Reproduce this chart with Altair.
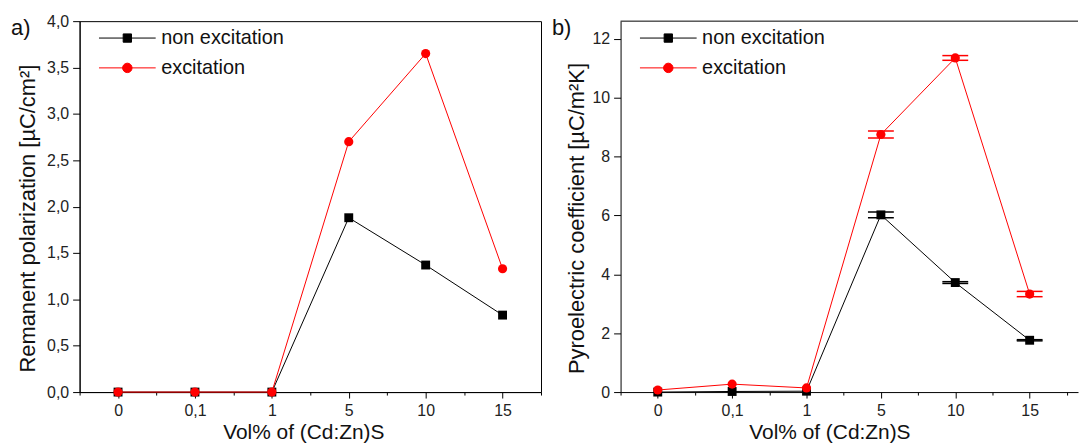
import altair as alt
import pandas as pd

# ---------------- data ----------------
x_labels = ["0", "0,1", "1", "5", "10", "15"]
series_names = ["non excitation", "excitation"]
panel_tags = ["a)", "b)"]

# panel a: remanent polarization [uC/cm2]
pol_non = [0.0, 0.0, 0.0, 1.88, 1.37, 0.83]
pol_exc = [0.0, 0.0, 0.0, 2.70, 3.65, 1.33]

# panel b: pyroelectric coefficient [uC/m2K]
pyro_non = [0.0, 0.02, 0.03, 6.02, 3.72, 1.76]
pyro_exc = [0.07, 0.27, 0.14, 8.75, 11.35, 3.33]
pyro_non_err = [0.0, 0.0, 0.0, 0.10, 0.03, 0.02]
pyro_exc_err = [0.0, 0.0, 0.0, 0.12, 0.08, 0.09]


def make_df(non, exc, non_err=None, exc_err=None):
    rows = []
    for s, vals, errs in [(series_names[0], non, non_err), (series_names[1], exc, exc_err)]:
        for i, v in enumerate(vals):
            rows.append({"pos": i, "label": x_labels[i], "series": s, "value": v,
                         "err": (errs[i] if errs else 0.0)})
    return pd.DataFrame(rows)


df_a = make_df(pol_non, pol_exc)
df_b = make_df(pyro_non, pyro_exc, pyro_non_err, pyro_exc_err)

FONT = "Liberation Sans"
label_arr = "[" + ",".join("'" + l + "'" for l in x_labels) + "]"
x_label_expr = "datum.value % 1 === 0 ? " + label_arr + "[datum.value] : ''"

SQ_PATH = "M-3,0H3M-0.44,-0.44H0.44V0.44H-0.44Z"
CI_PATH = "M-3,0H3M0.5,0A0.5,0.5,0,1,1,-0.5,0A0.5,0.5,0,1,1,0.5,0Z"


def panel(df, tag, ytitle, ydomain, yvalues, ymajor_test, ylabel_expr, width, height,
          xdomain_max, xtitle_x, ytitle_pad, right_border=True):
    xaxis = alt.Axis(
        values=[i * 0.5 - 0.5 for i in range(14)],
        labelExpr=x_label_expr,
        labelOverlap=False, labelFlush=False,
        tickSize={"condition": {"test": "datum.value % 1 === 0", "value": 6}, "value": 3},
        labelPadding=5,
        title="Vol% of (Cd:Zn)S", titleX=xtitle_x, titlePadding=3, titleFontSize=21,
        grid=False,
    )
    yaxis = alt.Axis(
        values=yvalues,
        labelExpr=ylabel_expr,
        labelOverlap=False, labelFlush=False,
        tickSize={"condition": {"test": ymajor_test, "value": 7}, "value": 3},
        labelPadding=4,
        title=ytitle, titleY=198, titlePadding=ytitle_pad,
        grid=False,
    )
    x = alt.X("pos:Q", scale=alt.Scale(domain=[-0.5, xdomain_max], nice=False, zero=False), axis=xaxis)
    y = alt.Y("value:Q", scale=alt.Scale(domain=ydomain, nice=False, zero=False), axis=yaxis)

    base = alt.Chart(df)
    non = base.transform_filter(alt.datum.series == series_names[0])
    exc = base.transform_filter(alt.datum.series == series_names[1])

    layers = []
    # error bars
    for sub, col in [(non, "black"), (exc, "red")]:
        eb = sub.transform_filter("datum.err > 0").transform_calculate(
            hi="datum.value + datum.err", lo="datum.value - datum.err")
        layers.append(eb.mark_rule(color=col, strokeWidth=1.5).encode(
            x=x, y=alt.Y("lo:Q"), y2="hi:Q"))
        caps = eb.transform_fold(["hi", "lo"], as_=["which", "cap"])
        layers.append(caps.mark_tick(color=col, orient="horizontal", size=26, thickness=1.5,
                                     opacity=1).encode(x=x, y=alt.Y("cap:Q")))
    layers += [
        non.mark_line(color="black", strokeWidth=1).encode(x=x, y=y),
        non.mark_point(shape="square", filled=True, size=80, color="black", opacity=1).encode(x=x, y=y),
        exc.mark_line(color="#ff0000", strokeWidth=1).encode(x=x, y=y),
        exc.mark_circle(size=85, color="#ff0000", opacity=1).encode(x=x, y=y),
    ]
    # legend layer (no marks drawn, legend only)
    leg = alt.Legend(
        orient="none", legendX=38, legendY=7, title=None,
        symbolSize=361, symbolStrokeWidth=1, symbolOpacity=1,
        labelFont=FONT, labelFontSize=20, labelColor="#111", labelOffset=24,
        rowPadding=10, padding=0, symbolOffset=0,
    )
    dom = series_names
    layers.append(base.transform_filter("false").mark_point(filled=True).encode(
        x=x, y=y,
        fill=alt.Fill("series:N", scale=alt.Scale(domain=dom, range=["black", "#ff0000"]), legend=leg),
        stroke=alt.Stroke("series:N", scale=alt.Scale(domain=dom, range=["black", "#ff0000"]), legend=leg),
        shape=alt.Shape("series:N", scale=alt.Scale(domain=dom, range=[SQ_PATH, CI_PATH]), legend=leg),
    ))
    # panel tag
    layers.append(alt.Chart(pd.DataFrame({"tag": [tag]})).mark_text(
        font=FONT, fontSize=22, align="left", baseline="alphabetic", color="#111").encode(
        text="tag:N", x=alt.value(-69), y=alt.value(14)))
    if not right_border:
        layers.append(alt.Chart(pd.DataFrame({"tag": [tag]})).mark_rule(color="black", strokeWidth=1).encode(
            x=alt.value(0), x2=alt.value(width), y=alt.value(0)))
    ch = alt.layer(*layers).properties(width=width, height=height)
    if not right_border:
        ch = ch.properties(view=alt.ViewConfig(stroke=None))
    return ch


pa = panel(df_a, panel_tags[0], "Remanent polarization [µC/cm²]", [0, 4.0],
           [i * 0.25 for i in range(17)],
           "abs(datum.value*2 - round(datum.value*2)) < 0.000001",
           "abs(datum.value*2 - round(datum.value*2)) < 0.000001 ? replace(format(datum.value, '.1f'), '.', ',') : ''",
           464, 373, 5.5, 225, 7)
pb = panel(df_b, panel_tags[1], "Pyroelectric coefficient [µC/m²K]", [0, 12.6],
           list(range(13)),
           "datum.value % 2 === 0",
           "datum.value % 2 === 0 ? format(datum.value, 'd') : ''",
           460, 373, 5.65, 210, 3, right_border=False)

chart = alt.hconcat(pa, pb, spacing=80, bounds="flush").resolve_scale(
    fill="independent", stroke="independent", shape="independent"
).properties(
    padding={"left": 2, "top": 3, "right": 0, "bottom": 0}
).configure_view(stroke="black", strokeWidth=1).configure_axis(
    domainColor="black", tickColor="black", domainWidth=1, tickWidth=1,
    labelFont=FONT, labelFontSize=16, labelColor="#222",
    titleFont=FONT, titleFontSize=22, titleFontWeight="normal", titleColor="#111",
).configure_concat(spacing=80)

chart.save("out.html", embed_options={"renderer": "svg", "actions": False})
